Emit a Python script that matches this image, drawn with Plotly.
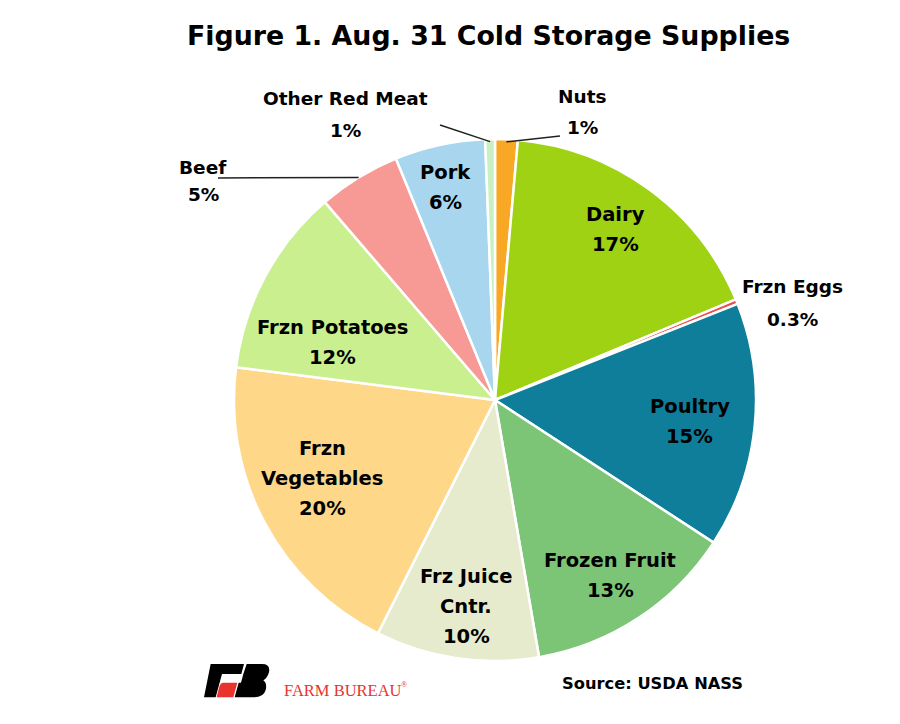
import math
import plotly.graph_objects as go

# ---- data ----
categories = ["Nuts", "Dairy", "Frzn Eggs", "Poultry", "Frozen Fruit", "Frz Juice Cntr.",
              "Frzn Vegetables", "Frzn Potatoes", "Beef", "Pork", "Other Red Meat"]
shares = [1.4, 17.3, 0.3, 15.2, 13.1, 10.1, 19.6, 11.7, 5.1, 5.6, 0.6]
label_lines = [["Nuts"], ["Dairy"], ["Frzn Eggs"], ["Poultry"], ["Frozen Fruit"], ["Frz Juice", "Cntr."],
               ["Frzn", "Vegetables"], ["Frzn Potatoes"], ["Beef"], ["Pork"], ["Other Red Meat"]]

colors = ["#F9A825", "#9ED212", "#E8504A", "#0E7E9A", "#7DC576", "#E6EBCD",
          "#FFD788", "#C9EF8E", "#F79A96", "#A7D6EE", "#C8F0C0"]

W, H = 900, 724
CX, CY, R = 495, 400, 261
FONT = "DejaVu Sans"


def pct(v):
    return f"{v:.1f}%" if v < 0.5 else f"{round(v)}%"


def px(x):
    return x / W


def py(y):
    return 1 - y / H


fig = go.Figure(go.Pie(
    labels=categories, values=shares, sort=False, direction="clockwise", rotation=0,
    marker=dict(colors=colors, line=dict(color="white", width=2.5)),
    textinfo="none", hoverinfo="label+percent", showlegend=False,
    domain=dict(x=[px(CX - R), px(CX + R)], y=[py(CY + R), py(CY - R)]),
))

# inside label placement: radius fraction and angle offset (deg) per category
inside_place = {
    "Dairy": (0.80, -1), "Poultry": (0.75, 0.6), "Frozen Fruit": (0.805, 0),
    "Frz Juice Cntr.": (0.80, -0.5), "Frzn Vegetables": (0.727, 3.8),
    "Frzn Potatoes": (0.66, -8.6), "Pork": (0.835, -1),
}
# outside labels: text block centre (pixels), line step
outside_place = {
    "Other Red Meat": (345, 114, 32), "Nuts": (582, 112, 30),
    "Beef": (203, 181, 27), "Frzn Eggs": (792, 303, 33),
}
leader_from = {"Other Red Meat": (440, 125), "Nuts": (560, 136), "Beef": (218, 178)}
leader_frac = {"Other Red Meat": 0.99, "Nuts": 0.99, "Beef": 1.0}

total = sum(shares)
cum = 0.0
annotations = []
shapes = []


def add_block(lines, x, y, step, size):
    n = len(lines)
    for i, t in enumerate(lines):
        yy = y + (i - (n - 1) / 2) * step
        annotations.append(dict(x=px(x), y=py(yy), xref="paper", yref="paper", text=f"<b>{t}</b>",
                                showarrow=False, font=dict(family=FONT, size=size, color="black"),
                                xanchor="center", yanchor="middle"))


for cat, v, ll in zip(categories, shares, label_lines):
    mid = (cum + v / 2) / total * 360
    cum += v
    lines = ll + [pct(v)]
    if cat in inside_place:
        rf, off = inside_place[cat]
        a = math.radians(mid + off)
        x = CX + rf * R * math.sin(a)
        y = CY - rf * R * math.cos(a)
        add_block(lines, x, y, 30, 19.5)
    else:
        x, y, step = outside_place[cat]
        add_block(lines, x, y, step, 18.5)
        if cat in leader_from:
            a = math.radians(mid)
            rf = leader_frac[cat]
            ex = CX + rf * R * math.sin(a)
            ey = CY - rf * R * math.cos(a)
            sx, sy = leader_from[cat]
            shapes.append(dict(type="line", xref="paper", yref="paper",
                               x0=px(sx), y0=py(sy), x1=px(ex), y1=py(ey),
                               line=dict(color="#222222", width=1.5)))

# title and source
annotations.append(dict(x=px(488), y=py(35), xref="paper", yref="paper",
                        text="<b>Figure 1. Aug. 31 Cold Storage Supplies</b>", showarrow=False,
                        font=dict(family=FONT, size=26.8, color="black"), xanchor="center", yanchor="middle"))
annotations.append(dict(x=px(652), y=py(683), xref="paper", yref="paper",
                        text="<b>Source: USDA NASS</b>", showarrow=False,
                        font=dict(family=FONT, size=16.3, color="black"), xanchor="center", yanchor="middle"))
annotations.append(dict(x=px(282), y=py(690), xref="paper", yref="paper",
                        text="FARM BUREAU", showarrow=False,
                        font=dict(family="Liberation Serif", size=16.5, color="#E8332E"),
                        xanchor="left", yanchor="middle"))
annotations.append(dict(x=px(399), y=py(684), xref="paper", yref="paper",
                        text="®", showarrow=False,
                        font=dict(family="Liberation Serif", size=8, color="#E8332E"),
                        xanchor="left", yanchor="middle"))


# logo paths (zoom-based pixel coords -> paper)
def logo_path(pts):
    out = []
    for cmd, coords in pts:
        if cmd == "Z":
            out.append("Z")
            continue
        vals = []
        for i in range(0, len(coords), 2):
            X = 180 + coords[i] / 3
            Y = 640 + coords[i + 1] / 3
            vals.append(f"{px(X):.5f},{py(Y):.5f}")
        out.append(cmd + " " + " ".join(vals))
    return " ".join(out)


f_black = [("M", [92, 72]), ("L", [192, 72]), ("L", [184, 102]), ("L", [126, 102]),
           ("L", [107, 172]), ("L", [72, 172]), ("Z", [])]
f_red = [("M", [130, 128]), ("L", [172, 128]), ("L", [160, 172]), ("L", [110, 172]),
         ("L", [117, 143]), ("Q", [121, 128, 130, 128]), ("Z", [])]
b_black = [("M", [200, 72]), ("L", [246, 72]), ("Q", [274, 72, 266, 100]), ("Q", [262, 114, 250, 121]),
           ("Q", [262, 130, 257, 150]), ("Q", [251, 172, 222, 172]), ("L", [164, 172]),
           ("L", [176, 128]), ("L", [183, 128]), ("L", [190, 102]), ("Z", [])]
for p, c in [(f_black, "black"), (f_red, "#E8332E"), (b_black, "black")]:
    shapes.append(dict(type="path", xref="paper", yref="paper", path=logo_path(p),
                       fillcolor=c, line=dict(width=0)))

fig.update_layout(width=W, height=H, margin=dict(l=0, r=0, t=0, b=0),
                  paper_bgcolor="white", plot_bgcolor="white",
                  annotations=annotations, shapes=shapes)
fig.write_html("out.html", config={"displayModeBar": False},
               post_script="document.body.style.margin='0';")
